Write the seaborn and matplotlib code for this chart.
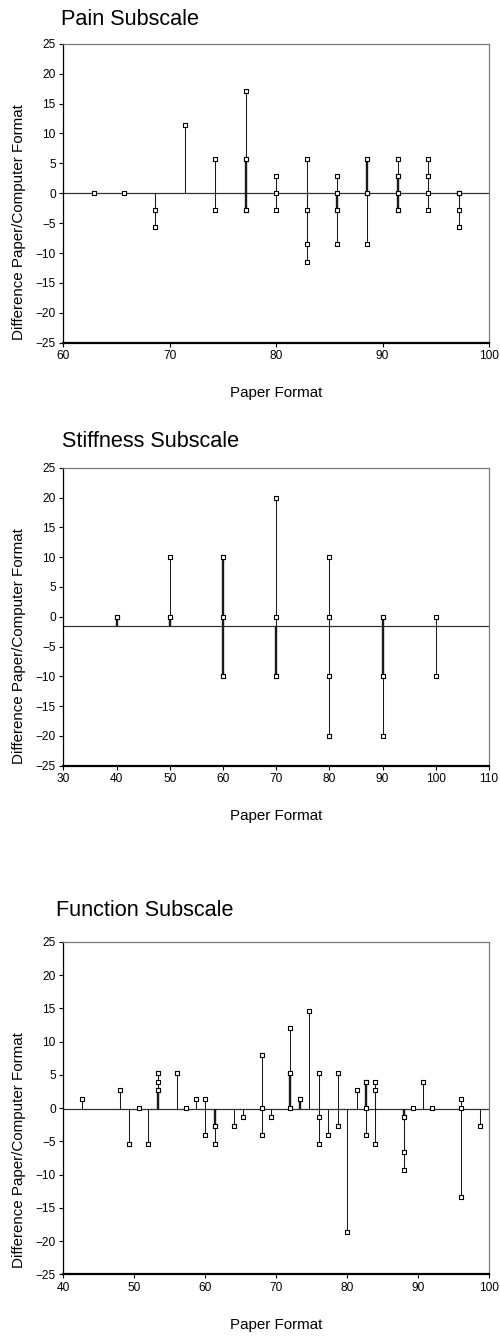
import pandas as pd
import matplotlib
matplotlib.use("Agg")
import matplotlib.pyplot as plt
import seaborn as sns

# --- Datos: diferencia papel/computadora vs formato papel ---

pain_paper = [62.86, 65.71, 68.57, 68.57, 71.43, 74.29, 74.29,
              77.14, 77.14, 77.14, 77.14, 77.14, 80.00, 80.00, 80.00,
              82.86, 82.86, 82.86, 82.86, 85.71, 85.71, 85.71, 85.71, 85.71,
              88.57, 88.57, 88.57, 88.57, 91.43, 91.43, 91.43, 91.43, 91.43, 91.43,
              94.29, 94.29, 94.29, 94.29, 97.14, 97.14, 97.14, 97.14]
pain_diff = [0, 0, -2.86, -5.71, 11.43, 5.71, -2.86,
             17.14, 5.71, 5.71, -2.86, -2.86, 2.86, 0, -2.86,
             5.71, -2.86, -8.57, -11.43, 2.86, 0, -2.86, -2.86, -8.57,
             5.71, 5.71, 0, -8.57, 5.71, 2.86, 2.86, 0, -2.86, -2.86,
             5.71, 2.86, 0, -2.86, 0, 0, -2.86, -5.71]
pain_mean = 0.0

stiff_paper = [40, 40, 50, 50, 50, 60, 60, 60, 60, 60, 70, 70, 70, 70,
               80, 80, 80, 80, 90, 90, 90, 90, 90, 100, 100]
stiff_diff = [0, 0, 10, 0, 0, 10, 10, 0, -10, -10, 20, 0, -10, -10,
              10, 0, -10, -20, 0, 0, -10, -10, -20, 0, -10]
stiff_mean = -1.5

func_paper = [42.67, 48.00, 49.33, 50.67, 52.00, 53.33, 53.33, 53.33, 53.33,
              56.00, 57.33, 58.67, 60.00, 60.00, 61.33, 61.33, 61.33, 64.00, 65.33,
              68.00, 68.00, 68.00, 69.33, 72.00, 72.00, 72.00, 72.00, 73.33, 73.33,
              74.67, 76.00, 76.00, 76.00, 77.33, 78.67, 78.67, 80.00, 81.33,
              82.67, 82.67, 82.67, 82.67, 84.00, 84.00, 84.00,
              88.00, 88.00, 88.00, 88.00, 89.33, 90.67, 92.00, 96.00, 96.00, 96.00, 98.67]
func_diff = [1.33, 2.67, -5.33, 0, -5.33, 5.33, 4.00, 2.67, 2.67,
             5.33, 0, 1.33, 1.33, -4.00, -2.67, -2.67, -5.33, -2.67, -1.33,
             8.00, 0, -4.00, -1.33, 12.00, 5.33, 5.33, 0, 1.33, 1.33,
             14.67, 5.33, -1.33, -5.33, -4.00, 5.33, -2.67, -18.67, 2.67,
             4.00, 4.00, 0, -4.00, 4.00, 2.67, -5.33,
             -1.33, -1.33, -6.67, -9.33, 0, 4.00, 0, 1.33, 0, -13.33, -2.67]
func_mean = -0.1

titulos = ['Pain Subscale', 'Stiffness Subscale', 'Function Subscale']
etiqueta_y = 'Difference Paper/Computer Format'
etiqueta_x = 'Paper Format'

# --- Estilo ---
sns.set_style("ticks")
plt.rcParams['font.family'] = ['Liberation Sans', 'DejaVu Sans']
plt.rcParams['text.color'] = 'black'
plt.rcParams['axes.labelcolor'] = 'black'
plt.rcParams['xtick.color'] = 'black'
plt.rcParams['ytick.color'] = 'black'

W, H = 500, 1336
fig = plt.figure(figsize=(W / 100, H / 100), dpi=100)


def px_axes(left, top, right, bottom):
    return fig.add_axes([left / W, 1 - bottom / H, (right - left) / W, (bottom - top) / H])


def dibujar(ax, paper, diff, media, xlim, xlabel_y, ylabel_y):
    df = pd.DataFrame({'paper': paper, 'diff': diff})
    conteo = df.groupby(['paper', 'diff']).size().reset_index(name='n')
    for _, fila in conteo.iterrows():
        lw = 0.75 if fila['n'] == 1 else 1.7
        ax.vlines(fila['paper'], media, fila['diff'], color='#1a1a1a', lw=lw, zorder=2)
    ax.axhline(media, color='#333333', lw=0.9, zorder=1)
    sns.scatterplot(data=df, x='paper', y='diff', marker='s', s=11,
                    color='white', edgecolor='black', linewidth=0.8,
                    zorder=3, ax=ax, legend=False)
    ax.set_xlim(*xlim)
    ax.set_ylim(-25, 25)
    ax.set_xticks(range(xlim[0], xlim[1] + 1, 10))
    ax.set_yticks(range(-25, 26, 5))
    ax.tick_params(direction='out', length=3, width=0.8, labelsize=8.6, pad=2.5)
    for lado in ['top', 'right']:
        ax.spines[lado].set_visible(True)
        ax.spines[lado].set_color('#7a7a7a')
        ax.spines[lado].set_linewidth(0.9)
    ax.spines['left'].set_color('black')
    ax.spines['left'].set_linewidth(0.9)
    ax.spines['bottom'].set_color('black')
    ax.spines['bottom'].set_linewidth(1.6)
    ax.set_xlabel(etiqueta_x, fontsize=10.9, va='center')
    ax.set_ylabel(etiqueta_y, fontsize=10.9, va='center')
    ax.xaxis.set_label_coords(0.5, xlabel_y)
    ax.yaxis.set_label_coords(-0.104, ylabel_y)


ax1 = px_axes(63.3, 43.7, 489, 342.7)
dibujar(ax1, pain_paper, pain_diff, pain_mean, (60, 100), -0.168, 0.404)
fig.text(61 / W, 1 - 25 / H, titulos[0], fontsize=15.6, va='baseline', ha='left')

ax2 = px_axes(63.3, 467.7, 489, 765.7)
dibujar(ax2, stiff_paper, stiff_diff, stiff_mean, (30, 110), -0.168, 0.402)
fig.text(61.7 / W, 1 - 446.7 / H, titulos[1], fontsize=15.6, va='baseline', ha='left')

ax3 = px_axes(63.3, 942, 489, 1274.3)
dibujar(ax3, func_paper, func_diff, func_mean, (40, 100), -0.153, 0.374)
fig.text(55.6 / W, 1 - 916 / H, titulos[2], fontsize=15.6, va='baseline', ha='left')

fig.savefig('out.png', dpi=100, facecolor='white')
plt.close(fig)
